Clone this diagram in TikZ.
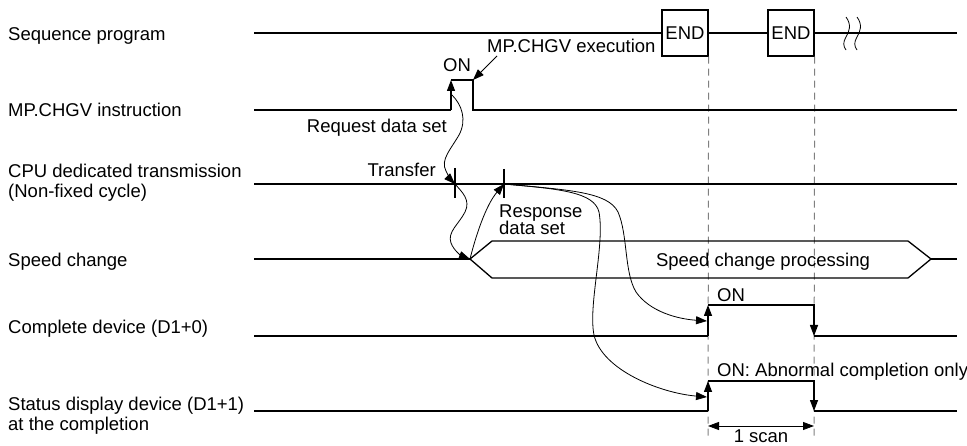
\documentclass[tikz,border=0pt]{standalone}
\usepackage{fontspec}
\setmainfont{Liberation Sans}
\usetikzlibrary{arrows.meta}
\begin{document}
\begin{tikzpicture}[x=1pt,y=-1pt,
  lbl/.style={font=\fontsize{18.5}{20}\selectfont, inner sep=0pt},
  sig/.style={line width=1.3pt},
  thinc/.style={line width=0.8pt},
  tipa/.style={-{Triangle[length=11pt,width=8pt]}},
  tipb/.style={{Triangle[length=11pt,width=8pt]}-{Triangle[length=11pt,width=8pt]}},
  vdashed/.style={line width=1pt, gray, dash pattern=on 7pt off 5pt},
  endbox/.style={draw, line width=1.3pt, minimum width=46pt, minimum height=46pt, inner sep=0pt, font=\fontsize{18.5}{20}\selectfont}
]
\useasboundingbox (0,0) rectangle (967,446);

% left labels
\node[lbl, anchor=base west] (lseq) at (8,41) {Sequence program};
\node[lbl, anchor=base west] (lmp) at (8,117) {MP.CHGV instruction};
\node[lbl, anchor=base west] (lcpu1) at (8,178) {CPU dedicated transmission};
\node[lbl, anchor=base west] (lcpu2) at (8,198) {(Non-fixed cycle)};
\node[lbl, anchor=base west] (lspd) at (8,267) {Speed change};
\node[lbl, anchor=base west] (lcmp) at (8,334) {Complete device (D1+0)};
\node[lbl, anchor=base west] (lst1) at (8,410) {Status display device (D1+1)};
\node[lbl, anchor=base west] (lst2) at (8,430) {at the completion};

% sequence program
\coordinate (s0) at (254,33);
\coordinate (s1) at (957,33);
\node[endbox] (end1) at (685,33) {END};
\node[endbox] (end2) at (791,33) {END};
\draw[sig] (s0) -- (end1.west) (end1.east) -- (end2.west) (end2.east) -- (s1);
\draw[thinc] (846,17) .. controls (852,25) and (849,32) .. (846,37) .. controls (843,42) and (843,46) .. (846,50);
\draw[thinc] (857,17) .. controls (863,25) and (860,32) .. (857,37) .. controls (854,42) and (854,46) .. (857,50);

% dashed verticals
\coordinate (d1) at (708,440);
\coordinate (d2) at (814,440);
\draw[vdashed] (end1.south east) -- (d1);
\draw[vdashed] (end2.south east) -- (d2);

% MP.CHGV instruction
\coordinate (m0) at (254,110);
\coordinate (m1) at (451,110);
\coordinate (m2) at (451,80);
\coordinate (m3) at (473,80);
\coordinate (m4) at (473,110);
\coordinate (m5) at (957,110);
\draw[sig] (m0) -- (m1);
\draw[sig, tipa] (m1) -- (m2);
\draw[sig] (m2) -- (m3) -- (m4) -- (m5);
\node[lbl, anchor=base] (on1) at (457,72) {ON};
\node[lbl, anchor=base west] (mpex) at (487,53) {MP.CHGV execution};
\coordinate (mpexa) at (497,56);
\draw[thinc, tipa] (mpexa) -- (m3);
\node[lbl, anchor=base east] (req) at (447,133) {Request data set};

% CPU dedicated transmission
\coordinate (c0) at (254,184);
\coordinate (c1) at (957,184);
\draw[sig] (c0) -- (c1);
\coordinate (t1a) at (455,168);
\coordinate (t1b) at (455,198);
\coordinate (t2a) at (504,169);
\coordinate (t2b) at (504,198);
\draw[sig] (t1a) -- (t1b);
\draw[sig] (t2a) -- (t2b);
\node[lbl, anchor=base east] (trf) at (436,177) {Transfer};
\node[lbl, anchor=base west] (rsp1) at (499,218) {Response};
\node[lbl, anchor=base west] (rsp2) at (499,235) {data set};

% speed change
\coordinate (p0) at (254,259);
\coordinate (pL) at (470,259);
\coordinate (pR) at (931,259);
\coordinate (p1) at (957,259);
\draw[sig] (p0) -- (pL);
\draw[sig] (pL) -- (492,241) -- (908,241) -- (pR) -- (908,278) -- (492,278) -- cycle;
\draw[sig] (pR) -- (p1);
\node[lbl, anchor=base] (scp) at (763,267) {Speed change processing};

% complete device
\coordinate (k0) at (254,336);
\coordinate (k1) at (708,336);
\coordinate (k2) at (708,305);
\coordinate (k3) at (814,305);
\coordinate (k4) at (814,336);
\coordinate (k5) at (957,336);
\draw[sig] (k0) -- (k1);
\draw[sig, tipa] (k1) -- (k2);
\draw[sig, tipa] (k2) -- (k3) -- (k4);
\draw[sig] (k4) -- (k5);
\node[lbl, anchor=base west] (on2) at (717,302) {ON};

% status display device
\coordinate (q0) at (254,411);
\coordinate (q1) at (708,411);
\coordinate (q2) at (708,381);
\coordinate (q3) at (814,381);
\coordinate (q4) at (814,411);
\coordinate (q5) at (957,411);
\draw[sig] (q0) -- (q1);
\draw[sig, tipa] (q1) -- (q2);
\draw[sig, tipa] (q2) -- (q3) -- (q4);
\draw[sig] (q4) -- (q5);
\node[lbl, anchor=base west] (on3) at (717,377) {ON: Abnormal completion only};

% 1 scan
\coordinate (sc0) at (708,426);
\coordinate (sc1) at (814,426);
\draw[thinc, tipb] (sc0) -- (sc1);
\node[lbl, anchor=base] (scan) at (761,442) {1 scan};

% curved connectors
\coordinate (r0) at (452,95);
\coordinate (tx) at (455,184);
\draw[thinc, tipa] (r0) .. controls (462,105) and (467,120) .. (459,135)
  .. controls (451,149) and (440,160) .. (446,171)
  .. controls (449,177) and (451,180) .. (tx);
\draw[thinc, tipa] (tx) .. controls (462,192) and (471,200) .. (465,212)
  .. controls (459,224) and (447,232) .. (451,243)
  .. controls (454,251) and (462,256) .. (pL);
\coordinate (rx) at (504,184);
\draw[thinc, tipa] (pL) .. controls (476,235) and (486,205) .. (rx);
\coordinate (ka) at (707,321);
\coordinate (qa) at (707,397);
\draw[thinc, tipa] (rx) .. controls (570,190) and (608,192) .. (618,212)
  .. controls (628,235) and (624,272) .. (636,292)
  .. controls (650,312) and (678,319) .. (ka);
\draw[thinc, tipa] (rx) .. controls (560,189) and (594,192) .. (599,212)
  .. controls (605,245) and (588,305) .. (594,335)
  .. controls (602,370) and (660,393) .. (qa);
\end{tikzpicture}
\end{document}
